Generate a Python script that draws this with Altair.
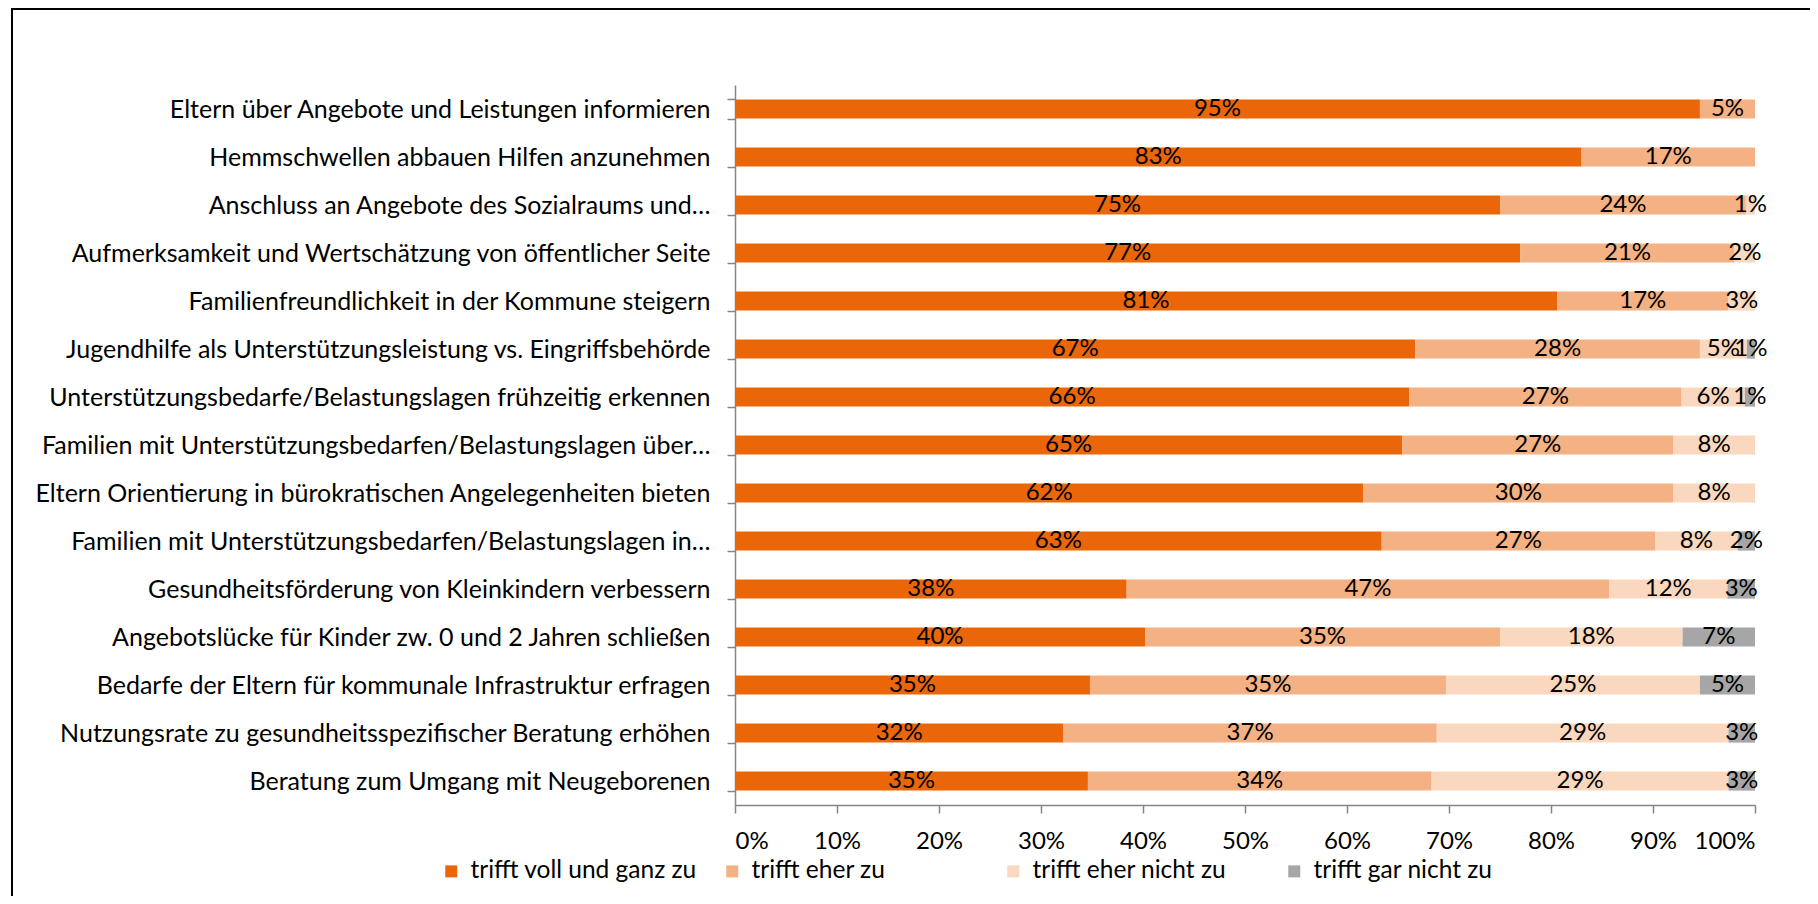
import altair as alt
import pandas as pd

categories = [
    "Eltern über Angebote und Leistungen informieren",
    "Hemmschwellen abbauen Hilfen anzunehmen",
    "Anschluss an Angebote des Sozialraums und…",
    "Aufmerksamkeit und Wertschätzung von öffentlicher Seite",
    "Familienfreundlichkeit in der Kommune steigern",
    "Jugendhilfe als Unterstützungsleistung vs. Eingriffsbehörde",
    "Unterstützungsbedarfe/Belastungslagen frühzeitig erkennen",
    "Familien mit Unterstützungsbedarfen/Belastungslagen über…",
    "Eltern Orientierung in bürokratischen Angelegenheiten bieten",
    "Familien mit Unterstützungsbedarfen/Belastungslagen in…",
    "Gesundheitsförderung von Kleinkindern verbessern",
    "Angebotslücke für Kinder zw. 0 und 2 Jahren schließen",
    "Bedarfe der Eltern für kommunale Infrastruktur erfragen",
    "Nutzungsrate zu gesundheitsspezifischer Beratung erhöhen",
    "Beratung zum Umgang mit Neugeborenen",
]

series_names = [
    "trifft voll und ganz zu",
    "trifft eher zu",
    "trifft eher nicht zu",
    "trifft gar nicht zu",
]

voll_und_ganz = [94.6, 83.0, 75.0, 77.0, 80.6, 66.7, 66.1, 65.4, 61.6, 63.4, 38.4, 40.2, 34.8, 32.2, 34.6]
eher_zu = [5.4, 17.0, 24.1, 21.0, 16.8, 27.9, 26.7, 26.6, 30.4, 26.8, 47.3, 34.8, 34.9, 36.6, 33.7]
eher_nicht = [0.0, 0.0, 0.9, 2.0, 2.6, 4.6, 6.2, 8.0, 8.0, 8.1, 11.6, 17.9, 24.9, 28.6, 29.1]
gar_nicht = [0.0, 0.0, 0.0, 0.0, 0.0, 0.8, 1.0, 0.0, 0.0, 1.7, 2.7, 7.1, 5.4, 2.6, 2.6]

x_ticks = [0, 0.1, 0.2, 0.3, 0.4, 0.5, 0.6, 0.7, 0.8, 0.9, 1.0]

colors = ["#EB6609", "#F4B183", "#F9D8BF", "#A6A6A6"]

rows = []
for i, cat in enumerate(categories):
    for k, vals in enumerate([voll_und_ganz, eher_zu, eher_nicht, gar_nicht]):
        v = vals[i]
        if v > 0:
            rows.append({"cat": cat, "series": series_names[k], "order": k, "value": v / 100.0})
df = pd.DataFrame(rows)

FONT = "Lato"
W, H = 1020, 720

base = alt.Chart(df).transform_stack(
    stack="value", groupby=["cat"], as_=["v0", "v1"], sort=[alt.SortField("order")]
).transform_calculate(mid="(datum.v0 + datum.v1) / 2")

y_enc = alt.Y(
    "cat:N",
    sort=categories,
    title=None,
    scale=alt.Scale(paddingInner=0.6, paddingOuter=0.3),
    axis=alt.Axis(
        domainColor="#868686",
        domainWidth=1.5,
        tickColor="#868686",
        tickWidth=1.5,
        tickSize=8,
        tickBand="extent",
        labelFont=FONT,
        labelFontSize=25,
        labelColor="#000000",
        labelPadding=17,
        labelLimit=900,
    ),
)

bars = base.mark_bar().encode(
    y=y_enc,
    x=alt.X(
        "v0:Q",
        title=None,
        scale=alt.Scale(domain=[0, 1], nice=False),
        axis=alt.Axis(
            values=x_ticks,
            format=".0%",
            grid=False,
            domainColor="#868686",
            domainWidth=1.5,
            tickColor="#868686",
            tickWidth=1.5,
            tickSize=8,
            labelFont=FONT,
            labelFontSize=24,
            labelColor="#000000",
            labelPadding=16,
        ),
    ),
    x2="v1:Q",
    color=alt.Color(
        "series:N",
        scale=alt.Scale(domain=series_names, range=colors),
        legend=alt.Legend(
            title=None,
            orient="none",
            direction="horizontal",
            legendX=-296,
            legendY=774,
            symbolType="square",
            symbolSize=144,
            symbolStrokeWidth=0,
            labelFont=FONT,
            labelFontSize=24.5,
            labelColor="#000000",
            labelOffset=7,
            gridAlign="all",
            columnPadding=23,
            padding=0,
            labelLimit=600,
        ),
    ),
)

labels = base.mark_text(font=FONT, fontSize=24, color="#000000", baseline="middle", align="center").encode(
    y=alt.Y("cat:N", sort=categories),
    x=alt.X("mid:Q"),
    text=alt.Text("value:Q", format=".0%"),
)

frame_df = pd.DataFrame({"k": [0]})
left_border = alt.Chart(frame_df).mark_rule(color="#000000", strokeWidth=2).encode(
    x=alt.value(-723), y=alt.value(-77), y2=alt.value(H + 91)
)
top_border = alt.Chart(frame_df).mark_rule(color="#000000", strokeWidth=2).encode(
    x=alt.value(-724), x2=alt.value(1080), y=alt.value(-76)
)

chart = alt.layer(bars, labels, left_border, top_border).properties(
    width=W,
    height=H,
    padding={"left": 727, "top": 77, "right": 55, "bottom": 91},
    autosize=alt.AutoSizeParams(type="none"),
).configure_view(stroke=None)

chart.save("out.html", embed_options={"renderer": "svg", "actions": False})
